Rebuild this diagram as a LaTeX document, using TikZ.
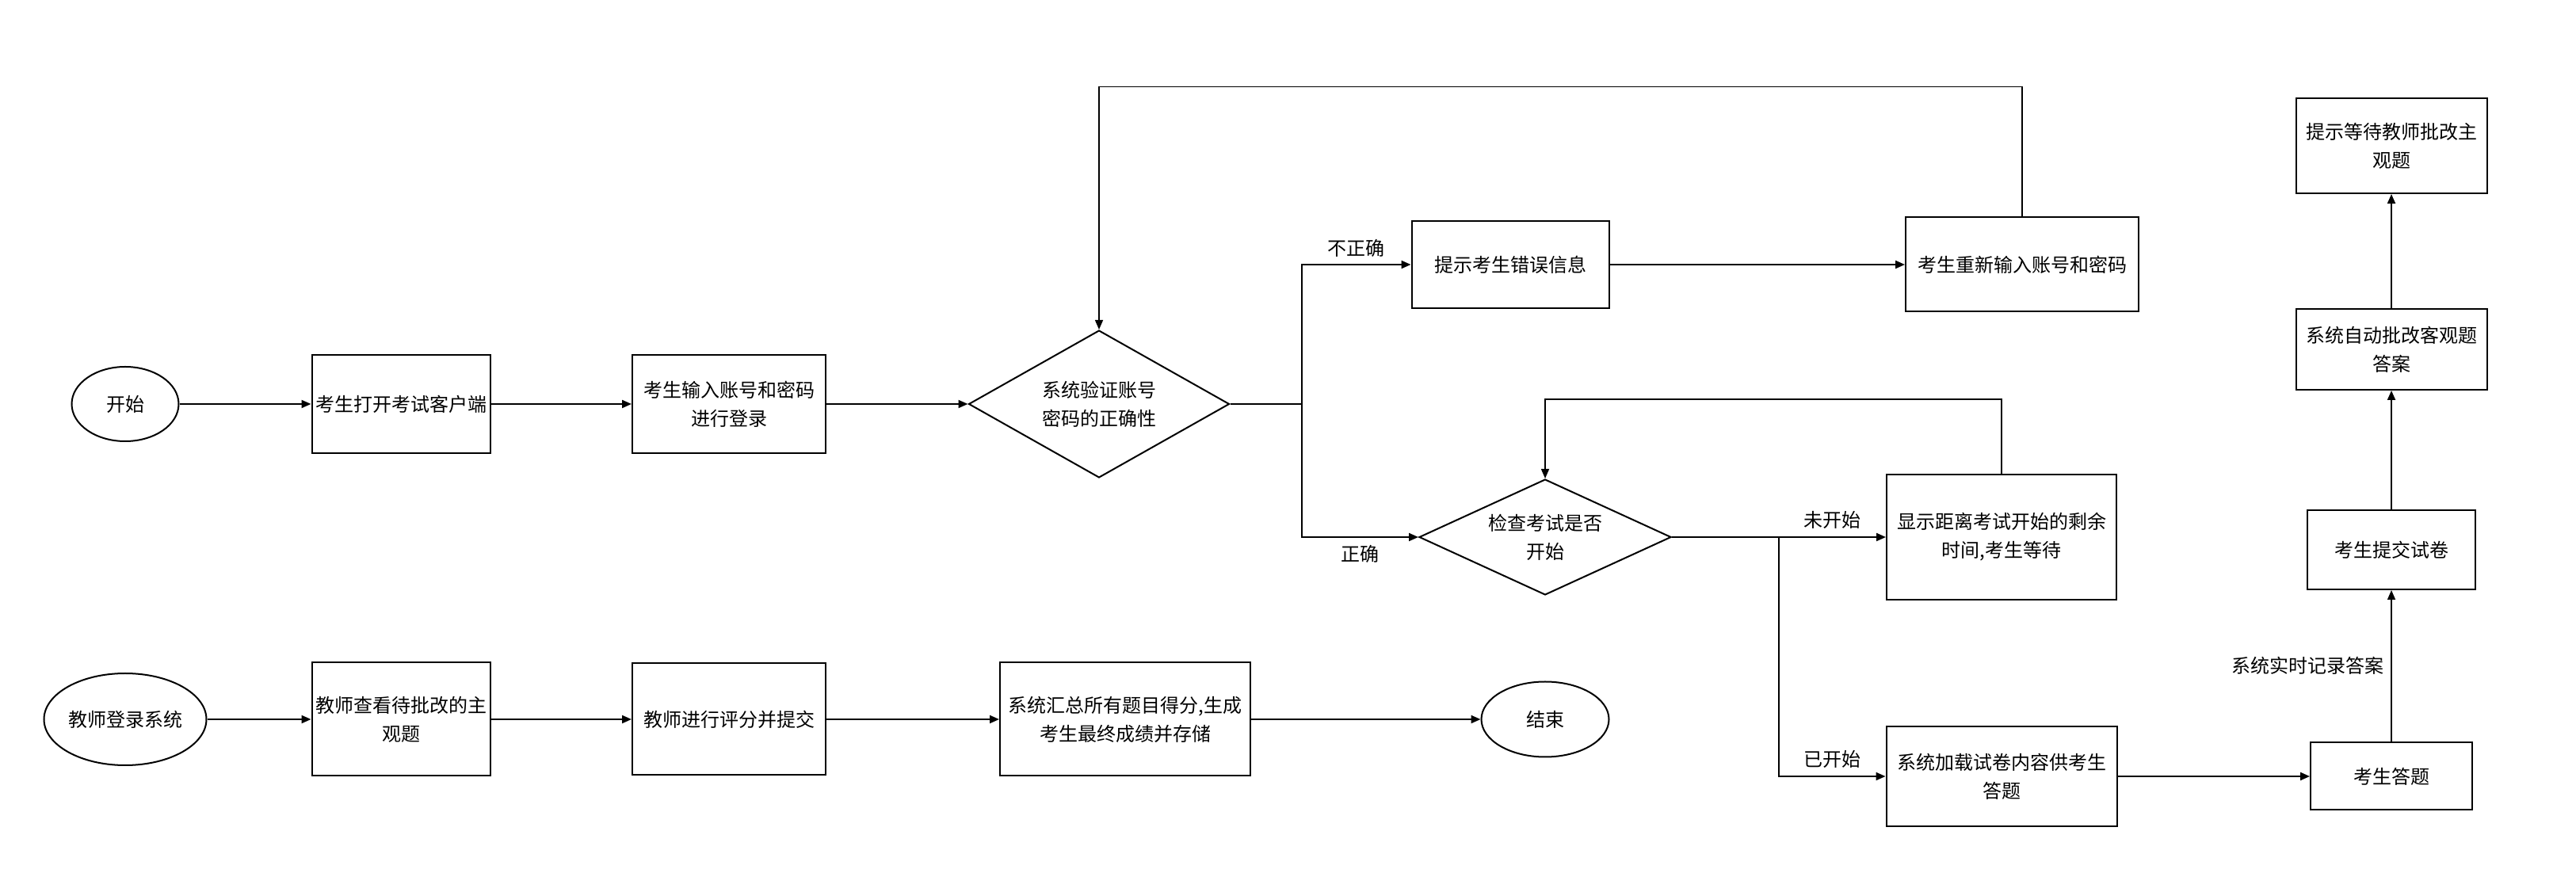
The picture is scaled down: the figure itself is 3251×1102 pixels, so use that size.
\documentclass[tikz,border=0pt]{standalone}
\usepackage{fontspec}
\setmainfont{Noto Sans CJK SC}
\usepackage{tikz}
\usetikzlibrary{arrows.meta,shapes.geometric,positioning}
\tikzstyle{process} = [rectangle, draw=black, line width=2pt, inner sep=2pt, align=center, font=\fontsize{24}{36}\selectfont]
\tikzstyle{decision} = [diamond, aspect=1.8, draw=black, line width=2pt, inner sep=0pt, align=center, font=\fontsize{24}{36}\selectfont]
\tikzstyle{startstop} = [ellipse, draw=black, line width=2pt, inner sep=0pt, font=\fontsize{24}{36}\selectfont]
\tikzstyle{branch} = [inner sep=9pt, font=\fontsize{24}{36}\selectfont]
\tikzstyle{arrow} = [line width=2pt,-{Triangle[length=12pt,width=10pt]}]
\tikzstyle{loopline} = [line width=1.5pt,-{Triangle[length=12pt,width=10pt]}]

\begin{document}
\begin{tikzpicture}
\useasboundingbox (0,0) rectangle (3251pt,1102pt);
% Student login
\node (start) [startstop, minimum width=135pt, minimum height=94pt] at (158pt,592pt) {开始};
\node (open) [process, node distance=348pt, right of=start, minimum width=225pt, minimum height=124pt] {考生打开考试客户端};
\node (login) [process, node distance=414pt, right of=open, minimum width=244pt, minimum height=124pt] {考生输入账号和密码\\进行登录};
\node (verify) [decision, node distance=467pt, right of=login, minimum width=329pt, minimum height=186pt] {系统验证账号\\密码的正确性};
\node (errmsg) [process, minimum width=249pt, minimum height=110pt] at (1906pt,768pt) {提示考生错误信息};
\node (reenter) [process, node distance=646pt, right of=errmsg, minimum width=294pt, minimum height=119pt] {考生重新输入账号和密码};

% Exam check
\node (check) [decision, minimum width=318pt, minimum height=146pt] at (1950pt,424pt) {检查考试是否\\开始};
\node (wait) [process, node distance=576pt, right of=check, minimum width=290pt, minimum height=158pt] {显示距离考试开始的剩余\\时间,考生等待};
\node (load) [process, node distance=302pt, below of=wait, minimum width=291pt, minimum height=126pt] {系统加载试卷内容供考生\\答题};
\node (answer) [process, node distance=492pt, right of=load, minimum width=204pt, minimum height=85pt] {考生答题};
\node (submit) [process, node distance=286pt, above of=answer, minimum width=212pt, minimum height=100pt] {考生提交试卷};
\node (autograde) [process, node distance=253pt, above of=submit, minimum width=241pt, minimum height=102pt] {系统自动批改客观题\\答案};
\node (notify) [process, node distance=257pt, above of=autograde, minimum width=241pt, minimum height=120pt] {提示等待教师批改主\\观题};

% Teacher grading
\node (tlogin) [startstop, minimum width=205pt, minimum height=116pt] at (158pt,194pt) {教师登录系统};
\node (tview) [process, node distance=348pt, right of=tlogin, minimum width=225pt, minimum height=143pt] {教师查看待批改的主\\观题};
\node (tgrade) [process, node distance=414pt, right of=tview, minimum width=244pt, minimum height=141pt] {教师进行评分并提交};
\node (summary) [process, node distance=500pt, right of=tgrade, minimum width=316pt, minimum height=143pt] {系统汇总所有题目得分,生成\\考生最终成绩并存储};
\node (stop) [startstop, node distance=530pt, right of=summary, minimum width=161pt, minimum height=95pt] {结束};

\draw[arrow] (start) -- (open);
\draw[arrow] (open) -- (login);
\draw[arrow] (login) -- (verify);
\draw[arrow] (verify.east) -- ++(90pt,0) |- node[branch, pos=0.75, above] {不正确} (errmsg.west);
\draw[arrow] (verify.east) -- ++(90pt,0) |- node[branch, pos=0.75, below] {正确} (check.west);
\draw[arrow] (errmsg) -- (reenter);
\draw[loopline] (reenter.north) -- ++(0,164pt) -| (verify.north);
\draw[arrow] (check) -- node[branch, pos=0.75, above] {未开始} (wait);
\draw[arrow] (check.east) -- ++(135pt,0) |- node[branch, pos=0.75, above] {已开始} (load.west);
\draw[loopline] (wait.north) -- ++(0,94pt) -| (check.north);
\draw[arrow] (load) -- (answer);
\draw[loopline] (answer) -- node[branch, left] {系统实时记录答案} (submit);
\draw[arrow] (submit) -- (autograde);
\draw[arrow] (autograde) -- (notify);

\draw[arrow] (tlogin) -- (tview);
\draw[arrow] (tview) -- (tgrade);
\draw[arrow] (tgrade) -- (summary);
\draw[arrow] (summary) -- (stop);
\end{tikzpicture}
\end{document}
